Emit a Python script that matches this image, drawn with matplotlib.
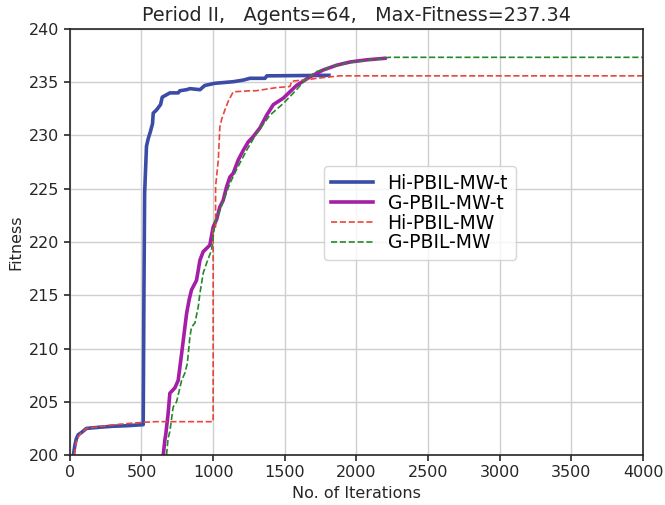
import numpy as np
import matplotlib
matplotlib.use('Agg')
import matplotlib.pyplot as plt

# Hi-PBIL-MW-t
hi_t_x = [25, 35, 45, 58, 80, 116, 200, 300, 400, 512, 517, 522, 535, 547, 563, 577, 582,
          605, 633, 645, 698, 756, 768, 815, 838, 908, 942, 1012, 1140, 1210, 1257, 1362,
          1375, 1808]
hi_t_y = [200.0, 200.9, 201.5, 201.9, 202.1, 202.5, 202.6, 202.7, 202.75, 202.85, 215.0,
          224.6, 229.0, 229.7, 230.4, 231.1, 232.1, 232.4, 232.9, 233.6, 234.0, 234.0,
          234.2, 234.3, 234.4, 234.3, 234.7, 234.9, 235.05, 235.2, 235.37, 235.37, 235.6,
          235.65]

# G-PBIL-MW-t
g_t_x = [652, 663, 670, 686, 698, 733, 756, 780, 803, 815, 833, 849, 884, 908, 931, 977,
         1000, 1024, 1047, 1070, 1094, 1117, 1140, 1175, 1210, 1245, 1280, 1326, 1373,
         1420, 1489, 1582, 1675, 1768, 1862, 1955, 2071, 2199]
g_t_y = [200.0, 201.4, 202.0, 203.9, 205.8, 206.3, 207.0, 209.5, 212.0, 213.3, 214.6,
         215.5, 216.4, 218.3, 219.1, 219.7, 221.4, 222.1, 223.3, 223.9, 225.2, 226.1,
         226.45, 227.7, 228.6, 229.4, 229.9, 230.7, 231.9, 232.9, 233.5, 234.7, 235.5,
         236.15, 236.6, 236.9, 237.1, 237.25]

# Hi-PBIL-MW
hi_x = [30, 35, 45, 58, 80, 116, 279, 400, 512, 600, 1000, 1000, 1017, 1017, 1036, 1047,
        1059, 1082, 1105, 1140, 1257, 1300, 1443, 1536, 1548, 1675, 1722, 1885, 4000]
hi_y = [200.0, 200.4, 201.2, 201.7, 202.1, 202.5, 202.8, 202.95, 203.07, 203.13, 203.13,
        221.4, 221.4, 225.2, 227.7, 230.8, 231.5, 232.4, 233.2, 234.1, 234.2, 234.2,
        234.5, 234.6, 235.1, 235.27, 235.37, 235.6, 235.6]

# G-PBIL-MW
g_x = [675, 686, 698, 721, 745, 780, 803, 820, 838, 849, 873, 896, 908, 931, 954, 989,
       1012, 1047, 1117, 1163, 1233, 1303, 1396, 1489, 1582, 1640, 1722, 1862, 1978,
       2187, 2230, 4000]
g_y = [200.0, 201.6, 202.2, 204.5, 205.0, 207.0, 207.7, 208.6, 211.1, 212.0, 212.4,
       213.9, 215.2, 217.1, 218.0, 219.25, 221.8, 223.0, 225.5, 226.8, 228.6, 230.2,
       231.9, 233.0, 234.3, 235.2, 236.0, 236.6, 236.9, 237.25, 237.34, 237.34]

fig = plt.figure(figsize=(6.65, 5.05), dpi=100)
ax = fig.add_axes([0.105, 0.099, 0.862, 0.8436])

ax.plot(hi_t_x, hi_t_y, color='#3a4ca6', lw=2.6, label='Hi-PBIL-MW-t')
ax.plot(g_t_x, g_t_y, color='#a41fa6', lw=2.6, label='G-PBIL-MW-t')
ax.plot(hi_x, hi_y, color='#e8453c', lw=1.2, ls='--', label='Hi-PBIL-MW')
ax.plot(g_x, g_y, color='#23892a', lw=1.2, ls='--', label='G-PBIL-MW')

ax.set_xlim(0, 4000)
ax.set_ylim(200, 240)
ax.set_xticks(np.arange(0, 4001, 500))
ax.set_yticks(np.arange(200, 241, 5))
ax.grid(True, color='#cfcfcf', lw=1.0)
ax.set_axisbelow(True)
for s in ax.spines.values():
    s.set_color('#262626')
    s.set_linewidth(1.2)
ax.tick_params(labelsize=11.5, length=4, width=1.2, color='#262626', colors='#262626')

ax.set_xlabel('No. of Iterations', fontsize=11.5, color='#262626')
ax.set_ylabel('Fitness', fontsize=11.5, color='#262626')
ax.set_title('Period II,   Agents=64,   Max-Fitness=237.34', fontsize=13.8, color='#262626')

ax.legend(loc='upper left', bbox_to_anchor=(0.443, 0.678), borderaxespad=0,
          fontsize=13.5, labelspacing=0.05, handlelength=2.2)

plt.savefig('out.png', dpi=100)
